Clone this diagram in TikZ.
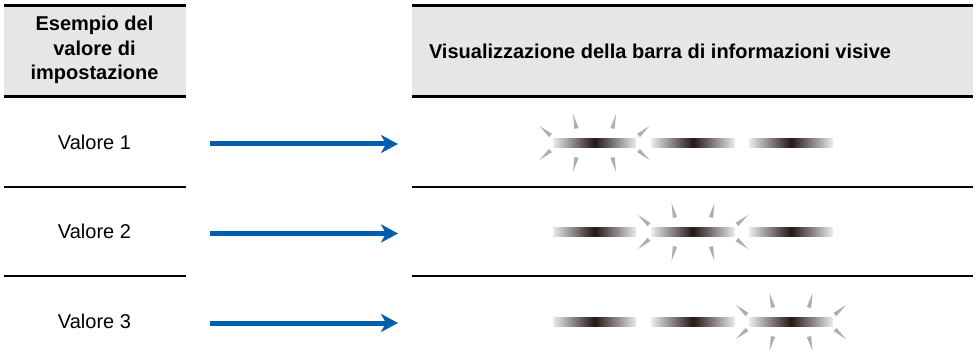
\documentclass[tikz,border=0pt]{standalone}
\usepackage{fontspec}
\setmainfont{Liberation Sans}
\usetikzlibrary{arrows.meta,calc}
\definecolor{hdrgray}{RGB}{230,230,230}
\definecolor{arrowblue}{RGB}{0,94,172}
\definecolor{sparkgray}{RGB}{174,174,174}
\definecolor{bardark}{RGB}{35,24,21}
\tikzset{
  rule/.style={line width=2.3pt},
  hdrtext/.style={font=\fontsize{20}{24.5}\selectfont\bfseries, align=center, inner sep=0},
  celltext/.style={font=\fontsize{20}{24}\selectfont, inner sep=0},
  flow/.style={line width=5pt, draw=arrowblue, -{Stealth[length=17pt,width=18pt,inset=5pt,fill=arrowblue]}},
  barshade/.style={left color=white!92!black, right color=white!92!black, middle color=bardark},
}
\newcommand\drawsparkle[2]{%
  \begin{scope}[shift={(#1,#2)}]
    \foreach \bx/\by/\tx/\ty in {-18/-14.5/-21.5/-29, 18/-14.5/21.5/-29, -18/14.5/-21.5/29, 18/14.5/21.5/29,
                                 -44/-7.5/-55/-17, -44/7.5/-55/17, 44/-7.5/55/-17, 44/7.5/55/17}{
      \fill[sparkgray] ($(\bx,\by)!2.2pt!90:(\tx,\ty)$) -- (\tx,\ty) -- ($(\bx,\by)!2.2pt!-90:(\tx,\ty)$) -- cycle;
    }
  \end{scope}%
}
\begin{document}
\begin{tikzpicture}[x=1pt,y=-1pt]
\useasboundingbox (0,0) rectangle (977,363);
% header fills
\fill[hdrgray] (4,6) rectangle (185.5,96.5);
\fill[hdrgray] (412,6) rectangle (973,96.5);
% rules
\foreach \yy in {5.5,96.5,187,276}{
  \draw[rule] (4,\yy) -- (185.5,\yy);
  \draw[rule] (412,\yy) -- (973,\yy);
}
% header texts
\node[hdrtext] (h1) at (94.5,50) {Esempio del\\valore di\\impostazione};
\node[hdrtext] (h2) at (660,51) {Visualizzazione della barra di informazioni visive};
% cell texts
\node[celltext] (v1) at (94.5,142) {Valore 1};
\node[celltext] (v2) at (94.5,231) {Valore 2};
\node[celltext] (v3) at (94.5,321) {Valore 3};
% arrows
\coordinate (a1s) at (210,144); \coordinate (a1e) at (398,144);
\coordinate (a2s) at (210,233.5); \coordinate (a2e) at (398,233.5);
\coordinate (a3s) at (210,323); \coordinate (a3e) at (398,323);
\draw[flow] (a1s) -- (a1e);
\draw[flow] (a2s) -- (a2e);
\draw[flow] (a3s) -- (a3e);
% bars
\foreach \cy in {143,232,322}{
  \foreach \cx in {594.5,693,791}{
    \shade[barshade] (\cx-41.5,\cy-4.5) rectangle (\cx+41.5,\cy+4.5);
  }
}
% sparkles
\drawsparkle{594.5}{143}
\drawsparkle{693}{232}
\drawsparkle{791}{322}
\end{tikzpicture}
\end{document}
